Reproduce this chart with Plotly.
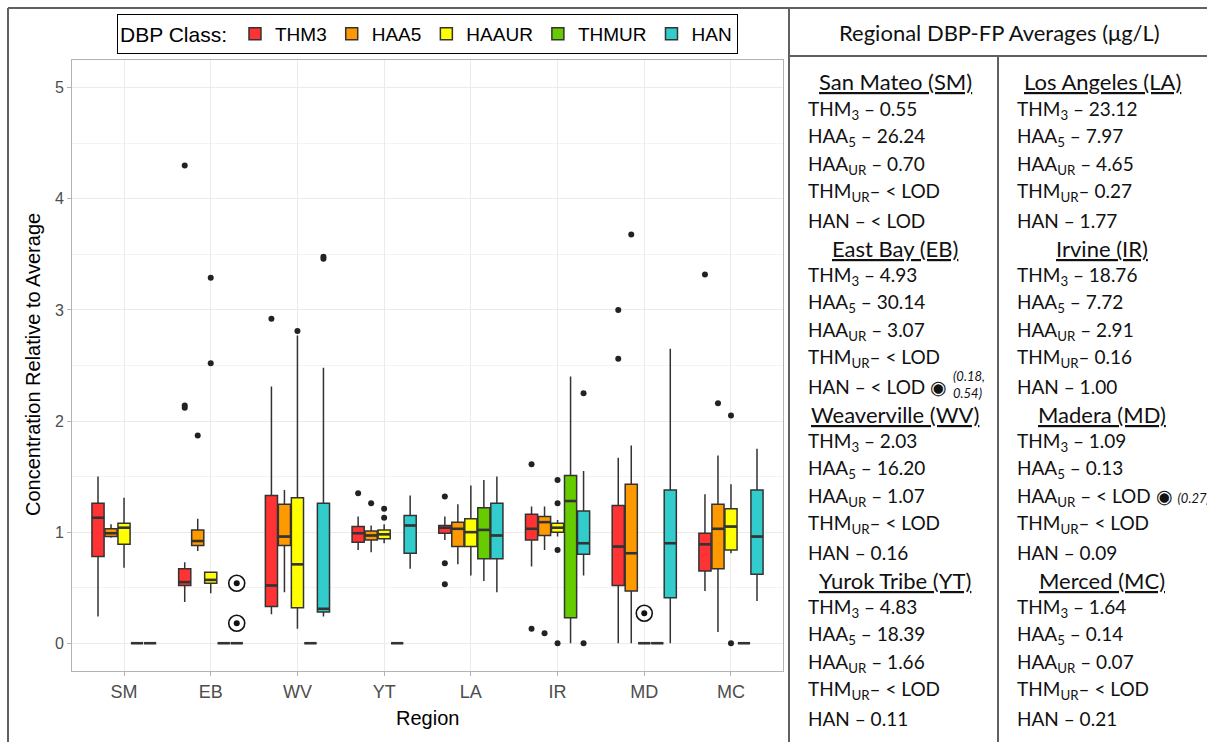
import plotly.graph_objects as go

# ---------------- data ----------------
REGIONS = ["SM", "EB", "WV", "YT", "LA", "IR", "MD", "MC"]
CLASSES = ["THM3", "HAA5", "HAAUR", "THMUR", "HAN"]
COLORS = ["#FF3333", "#FF9900", "#FFFF00", "#66CC00", "#33CCCC"]
OFFSETS = [-0.3, -0.15, 0.0, 0.15, 0.3]

# per region: [lower whisker, Q1, median, Q3, upper whisker]
THM3 = [[0.24, 0.78, 1.13, 1.26, 1.50], [0.37, 0.52, 0.55, 0.67, 0.73],
        [0.26, 0.33, 0.52, 1.33, 2.31], [0.84, 0.91, 0.99, 1.05, 1.14],
        [0.93, 0.99, 1.04, 1.06, 1.14], [0.69, 0.93, 1.03, 1.16, 1.23],
        [0.00, 0.52, 0.87, 1.24, 1.67], [0.47, 0.65, 0.89, 0.99, 1.34]]
HAA5 = [[0.95, 0.96, 0.99, 1.03, 1.07], [0.83, 0.88, 0.92, 1.02, 1.12],
        [0.46, 0.88, 0.96, 1.25, 1.38], [0.82, 0.93, 0.97, 1.01, 1.06],
        [0.71, 0.87, 1.03, 1.09, 1.25], [0.84, 0.97, 1.09, 1.14, 1.23],
        [0.00, 0.47, 0.81, 1.43, 1.78], [0.10, 0.67, 1.03, 1.25, 1.69]]
HAAUR = [[0.68, 0.89, 1.04, 1.08, 1.31], [0.45, 0.54, 0.57, 0.64, 0.64],
         [0.13, 0.32, 0.71, 1.31, 2.77], [0.90, 0.94, 0.98, 1.02, 1.07],
         [0.61, 0.87, 1.00, 1.12, 1.42], [0.96, 1.00, 1.04, 1.08, 1.11],
         [0.00, 0.00, 0.00, 0.00, 0.00], [0.81, 0.84, 1.05, 1.21, 1.43]]
THMUR = [[0, 0, 0, 0, 0], [0, 0, 0, 0, 0], [0, 0, 0, 0, 0], [0, 0, 0, 0, 0],
         [0.56, 0.76, 1.02, 1.22, 1.47], [0.00, 0.23, 1.28, 1.51, 2.40],
         [0, 0, 0, 0, 0], [0, 0, 0, 0, 0]]
HAN = [[0, 0, 0, 0, 0], [0, 0, 0, 0, 0],
       [0.24, 0.28, 0.31, 1.26, 2.48], [0.67, 0.81, 1.06, 1.15, 1.33],
       [0.46, 0.76, 0.97, 1.26, 1.50], [0.61, 0.80, 0.90, 1.19, 1.55],
       [0.00, 0.41, 0.90, 1.38, 2.65], [0.38, 0.62, 0.96, 1.38, 1.75]]

# outliers: (region, value)
THM3_OUT = [("EB", 2.12), ("EB", 2.14), ("EB", 4.30), ("WV", 2.92), ("YT", 1.35),
            ("LA", 1.32), ("LA", 0.72), ("LA", 0.53), ("IR", 1.61), ("IR", 0.13),
            ("MD", 3.00), ("MD", 2.56), ("MC", 3.32)]
HAA5_OUT = [("EB", 1.87), ("YT", 1.26), ("IR", 0.09), ("MD", 3.68), ("MC", 2.16)]
HAAUR_OUT = [("EB", 3.29), ("EB", 2.52), ("WV", 2.81), ("YT", 1.21), ("YT", 1.13),
             ("IR", 1.47), ("IR", 1.26), ("IR", 0.84), ("IR", 0.00),
             ("MC", 2.05), ("MC", 0.00)]
THMUR_OUT = []
HAN_OUT = [("WV", 3.46), ("WV", 3.48), ("IR", 2.25), ("IR", 0.00)]

# circled values (below LOD averages): (region, class, value)
SPECIAL = [("EB", "HAN", 0.18), ("EB", "HAN", 0.54), ("MD", "HAAUR", 0.27)]

# table of regional averages
TABLE_LEFT = [("San Mateo (SM)", ["0.55", "26.24", "0.70", "< LOD", "< LOD"]),
              ("East Bay (EB)", ["4.93", "30.14", "3.07", "< LOD", "< LOD ◉"]),
              ("Weaverville (WV)", ["2.03", "16.20", "1.07", "< LOD", "0.16"]),
              ("Yurok Tribe (YT)", ["4.83", "18.39", "1.66", "< LOD", "0.11"])]
TABLE_RIGHT = [("Los Angeles (LA)", ["23.12", "7.97", "4.65", "0.27", "1.77"]),
               ("Irvine (IR)", ["18.76", "7.72", "2.91", "0.16", "1.00"]),
               ("Madera (MD)", ["1.09", "0.13", "< LOD ◉ <span style='font-size:13px'><i>(0.27)</i></span>", "< LOD", "0.09"]),
               ("Merced (MC)", ["1.64", "0.14", "0.07", "< LOD", "0.21"])]
ROW_NAMES = ["THM<sub>3</sub> – ", "HAA<sub>5</sub> – ", "HAA<sub>UR</sub> – ",
             "THM<sub>UR</sub>– ", "HAN – "]

STATS = [THM3, HAA5, HAAUR, THMUR, HAN]
OUTS = [THM3_OUT, HAA5_OUT, HAAUR_OUT, THMUR_OUT, HAN_OUT]
BOX_W = 0.14

# ---------------- layout helpers (pixel -> paper) ----------------
W, H = 1207, 742
L, R, T, B = 72, 783, 60, 671


def px(x):
    return (x - L) / (R - L)


def py(y):
    return (B - y) / (B - T)


fig = go.Figure()

for ci, cls in enumerate(CLASSES):
    st = STATS[ci]
    xs = [ri + OFFSETS[ci] for ri in range(len(REGIONS))]
    fig.add_trace(go.Box(
        name=cls, x=xs,
        lowerfence=[s[0] for s in st], q1=[s[1] for s in st],
        median=[s[2] for s in st], q3=[s[3] for s in st],
        upperfence=[s[4] for s in st],
        width=BOX_W, whiskerwidth=0, boxpoints=False,
        fillcolor=COLORS[ci], line=dict(color="#333333", width=1.5),
        showlegend=True, hoverinfo="skip",
    ))

# thicker median bars (ggplot style)
mx, my = [], []
for ci, cls in enumerate(CLASSES):
    for ri in range(len(REGIONS)):
        c = ri + OFFSETS[ci]
        m = STATS[ci][ri][2]
        mx += [c - BOX_W / 2, c + BOX_W / 2, None]
        my += [m, m, None]
fig.add_trace(go.Scatter(x=mx, y=my, mode="lines", line=dict(color="#333333", width=2.6),
                         showlegend=False, hoverinfo="skip"))

for ci, cls in enumerate(CLASSES):
    outs = OUTS[ci]
    if not outs:
        continue
    fig.add_trace(go.Scatter(
        x=[REGIONS.index(r) + OFFSETS[ci] for r, v in outs],
        y=[v for r, v in outs], mode="markers",
        marker=dict(color="#222222", size=6), showlegend=False, hoverinfo="skip"))

sx = [REGIONS.index(r) + OFFSETS[CLASSES.index(c)] for r, c, v in SPECIAL]
sy = [v for r, c, v in SPECIAL]
fig.add_trace(go.Scatter(x=sx, y=sy, mode="markers", showlegend=False, hoverinfo="skip",
                         marker=dict(symbol="circle-open", size=16, color="#111111",
                                     line=dict(width=1.6, color="#111111"))))
fig.add_trace(go.Scatter(x=sx, y=sy, mode="markers", showlegend=False, hoverinfo="skip",
                         marker=dict(symbol="circle", size=6, color="#111111")))

annotations = []
# axis titles
annotations.append(dict(text="Region", x=0.5, y=py(718), xref="paper", yref="paper",
                        xanchor="center", yanchor="middle",
                        showarrow=False, font=dict(size=20, color="black",
                                                   family="Liberation Sans")))
annotations.append(dict(text="Concentration Relative to Average", x=px(33), y=py(365),
                        xref="paper", yref="paper", showarrow=False, textangle=-90,
                        xanchor="center", yanchor="middle",
                        font=dict(size=20, color="black", family="Liberation Sans")))

# table
TFONT = "Lato"
annotations.append(dict(text="Regional DBP-FP Averages (μg/L)", x=px(1000), y=py(32),
                        xref="paper", yref="paper", showarrow=False,
                        xanchor="center", yanchor="middle",
                        font=dict(size=22, color="#111111", family=TFONT)))
for col, (table, cx, lx) in enumerate([(TABLE_LEFT, 895, 806), (TABLE_RIGHT, 1102, 1015)]):
    for b, (title, vals) in enumerate(table):
        yh = 82 + 166 * b
        annotations.append(dict(text="<u>" + title + "</u>", x=px(cx), y=py(yh),
                                xref="paper", yref="paper", showarrow=False,
                                xanchor="center", yanchor="middle",
                                font=dict(size=22, color="#111111", family=TFONT)))
        for k, (nm, v) in enumerate(zip(ROW_NAMES, vals)):
            annotations.append(dict(text=nm + v, x=px(lx), y=py(yh + 27.6 * (k + 1)),
                                    xref="paper", yref="paper", showarrow=False,
                                    xanchor="left", yanchor="middle",
                                    font=dict(size=19, color="#111111", family=TFONT)))
annotations.append(dict(text="<i>(0.18,<br>0.54)</i>", x=px(951), y=py(384),
                        xref="paper", yref="paper", showarrow=False, xanchor="left",
                        yanchor="middle", align="left",
                        font=dict(size=13, color="#111111", family=TFONT)))

shapes = []
lc = "#606060"
for (x0, y0, x1, y1) in [(8, 8, 8, 742), (8, 8, 1207, 8), (789, 8, 789, 742),
                         (789, 56, 1207, 56), (998, 56, 998, 742)]:
    shapes.append(dict(type="line", xref="paper", yref="paper", x0=px(x0), y0=py(y0),
                       x1=px(x1), y1=py(y1), line=dict(color=lc, width=2)))

fig.update_layout(
    width=W, height=H,
    margin=dict(l=L, r=W - R, t=T, b=H - B, autoexpand=False),
    paper_bgcolor="white", plot_bgcolor="white",
    font=dict(family="Liberation Sans", color="#4D4D4D"),
    boxmode="overlay",
    legend=dict(orientation="h", x=0.5, xanchor="center", y=py(14), yanchor="top",
                bordercolor="black", borderwidth=1, bgcolor="white",
                title=dict(text="DBP Class:", font=dict(size=21, color="black")),
                font=dict(size=19, color="black"), itemwidth=30, traceorder="normal"),
    annotations=annotations, shapes=shapes,
    xaxis=dict(range=[-0.6, 7.6], tickvals=list(range(len(REGIONS))), ticktext=REGIONS,
               showgrid=True, gridcolor="#EBEBEB", gridwidth=1, zeroline=False,
               showline=True, mirror=True, linecolor="#B3B3B3", linewidth=1,
               ticks="outside", ticklen=4, tickcolor="#B3B3B3",
               tickfont=dict(size=18, color="#4D4D4D")),
    yaxis=dict(range=[-0.25, 5.25], tickvals=[0, 1, 2, 3, 4, 5], showgrid=True,
               gridcolor="#EBEBEB", gridwidth=1, zeroline=False,
               minor=dict(dtick=0.5, showgrid=True, gridcolor="#F3F3F3", gridwidth=1),
               showline=True, mirror=True, linecolor="#B3B3B3", linewidth=1,
               ticks="outside", ticklen=4, tickcolor="#B3B3B3",
               tickfont=dict(size=16, color="#4D4D4D")),
)

fig.write_html("out.html")
